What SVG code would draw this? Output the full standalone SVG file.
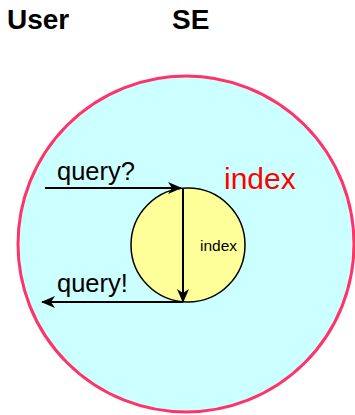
<svg xmlns="http://www.w3.org/2000/svg" width="355" height="415" viewBox="0 0 355 415">
<style>
.title{font-family:"Liberation Sans",Arial,sans-serif;font-weight:bold;font-size:28px;fill:#000}
.lbl{font-family:"Liberation Sans",Arial,sans-serif;font-size:25.5px;fill:#000}
.conn{stroke:#000;stroke-width:2;fill:none}
</style>
<defs>
<marker id="ah" viewBox="0 0 14 12" refX="13" refY="6" markerWidth="14" markerHeight="12" markerUnits="userSpaceOnUse" orient="auto">
<path d="M0,0 L14,6 L0,12 L4,6 Z" fill="#000"/>
</marker>
</defs>
<rect width="355" height="415" fill="#fff"/>
<text class="title" x="7" y="29">User</text>
<text class="title" x="172" y="29">SE</text>
<g id="se">
<circle cx="186" cy="244" r="168" fill="#ccffff" stroke="#ff3366" stroke-width="3"/>
<text x="224" y="189" font-family="Liberation Sans,Arial,sans-serif" font-size="30" fill="#ff0000">index</text>
</g>
<g id="index">
<circle cx="188" cy="245" r="57" fill="#ffff99" stroke="#000" stroke-width="1.5"/>
<text x="200" y="251" font-family="Liberation Sans,Arial,sans-serif" font-size="15.5" fill="#000">index</text>
</g>
<g id="connectors">
<line class="conn" x1="45" y1="188" x2="181" y2="188" marker-end="url(#ah)"/>
<text class="lbl" x="57" y="180">query?</text>
<line class="conn" x1="183" y1="189" x2="183" y2="302" marker-end="url(#ah)"/>
<line class="conn" x1="183" y1="302" x2="42" y2="302" marker-end="url(#ah)"/>
<text class="lbl" x="57" y="292">query!</text>
</g>
</svg>
